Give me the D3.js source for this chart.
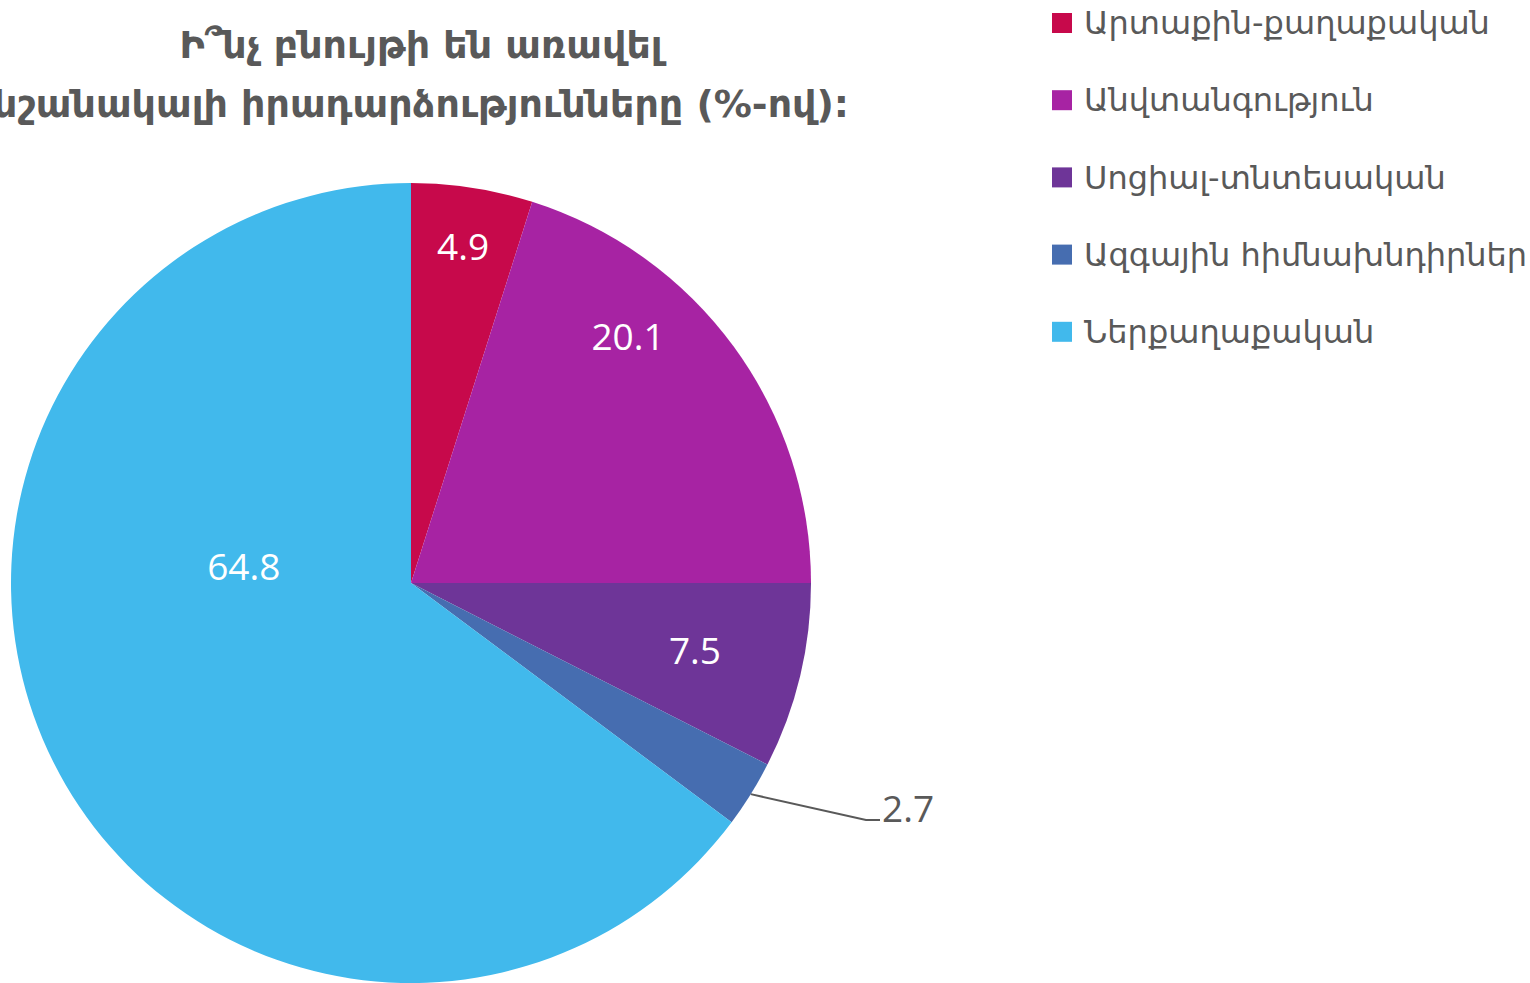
<!DOCTYPE html>
<html>
<head>
<meta charset="utf-8">
<script src="https://cdn.jsdelivr.net/npm/d3@7"></script>
<style>
  html, body { margin: 0; padding: 0; background: #fff; overflow: hidden; }
  svg { display: block; }
</style>
</head>
<body>
<svg id="chart" width="1530" height="983"></svg>
<script>
// chart data
const categories = [
  "Արտաքին-քաղաքական",
  "Անվտանգություն",
  "Սոցիալ-տնտեսական",
  "Ազգային հիմնախնդիրներ",
  "Ներքաղաքական"
];
const values = [4.9, 20.1, 7.5, 2.7, 64.8];
const colors = ["#C7094B", "#A723A3", "#6E3598", "#466DB0", "#41B9EC"];
const titleLines = ["Ի՞նչ բնույթի են առավել", "նշանակալի իրադարձությունները (%-ով):"];

const width = 1530, height = 983;
const cx = 411, cy = 583, radius = 400;
const armenianFont = "'DejaVu Sans', sans-serif";
const numberFont = "'Open Sans', 'DejaVu Sans', sans-serif";

const svg = d3.select("#chart");

const data = categories.map((c, i) => ({ name: c, value: values[i], color: colors[i] }));

const pie = d3.pie().sort(null).value(d => d.value);
const arcs = pie(data);
const arc = d3.arc().innerRadius(0).outerRadius(radius);

const g = svg.append("g").attr("transform", `translate(${cx},${cy})`);

// slices
g.selectAll("path.slice")
  .data(arcs)
  .enter().append("path")
  .attr("class", "slice")
  .attr("d", arc)
  .attr("fill", d => d.data.color);

// label placement (excel "best fit" look): radius factor per slice, some nudged off the mid angle
const labelR = [0.85, 0.82, 0.73, 1, 0.42];
const labelShift = [0, -12.4, 0, 0, 32]; // degrees added to mid angle
arcs.forEach((a, i) => {
  if (i === 3) return; // small slice gets outside label
  const mid = (a.startAngle + a.endAngle) / 2 + labelShift[i] * Math.PI / 180;
  const r = radius * labelR[i];
  g.append("text")
    .attr("x", r * Math.sin(mid))
    .attr("y", -r * Math.cos(mid))
    .attr("dy", "0.35em")
    .attr("text-anchor", "middle")
    .attr("fill", "#fff")
    .style("font-family", numberFont)
    .style("font-size", "37px")
    .text(a.data.value);
});

// outside label with leader line for the small slice
{
  const a = arcs[3];
  const mid = (a.startAngle + a.endAngle) / 2;
  const p0 = [radius * Math.sin(mid), -radius * Math.cos(mid)];
  const p1 = [455, 237];
  const p2 = [469, 237];
  g.append("polyline")
    .attr("points", [p0, p1, p2].map(p => p.join(",")).join(" "))
    .attr("fill", "none")
    .attr("stroke", "#595959")
    .attr("stroke-width", 2);
  g.append("text")
    .attr("x", p2[0] + 2)
    .attr("y", p2[1] + 2)
    .attr("fill", "#595959")
    .style("font-family", numberFont)
    .style("font-size", "37px")
    .text(a.data.value);
}

// title
const title = svg.append("text")
  .attr("text-anchor", "middle")
  .attr("fill", "#595959")
  .style("font-family", armenianFont)
  .style("font-weight", "bold")
  .style("font-size", "38px");
titleLines.forEach((t, i) => {
  title.append("tspan")
    .attr("x", 421)
    .attr("y", 58 + i * 59)
    .text(t);
});

// legend
const legend = svg.append("g").attr("transform", "translate(1052,23)");
legend.selectAll("g")
  .data(data)
  .enter().append("g")
  .attr("transform", (d, i) => `translate(0,${i * 77.2})`)
  .each(function(d) {
    const item = d3.select(this);
    item.append("rect")
      .attr("x", 0).attr("y", -10)
      .attr("width", 20).attr("height", 20)
      .attr("fill", d.color);
    item.append("text")
      .attr("x", 32)
      .attr("y", 0)
      .attr("dy", "0.35em")
      .attr("fill", "#595959")
      .style("font-family", armenianFont)
      .style("font-size", "32px")
      .text(d.name);
  });
</script>
</body>
</html>
